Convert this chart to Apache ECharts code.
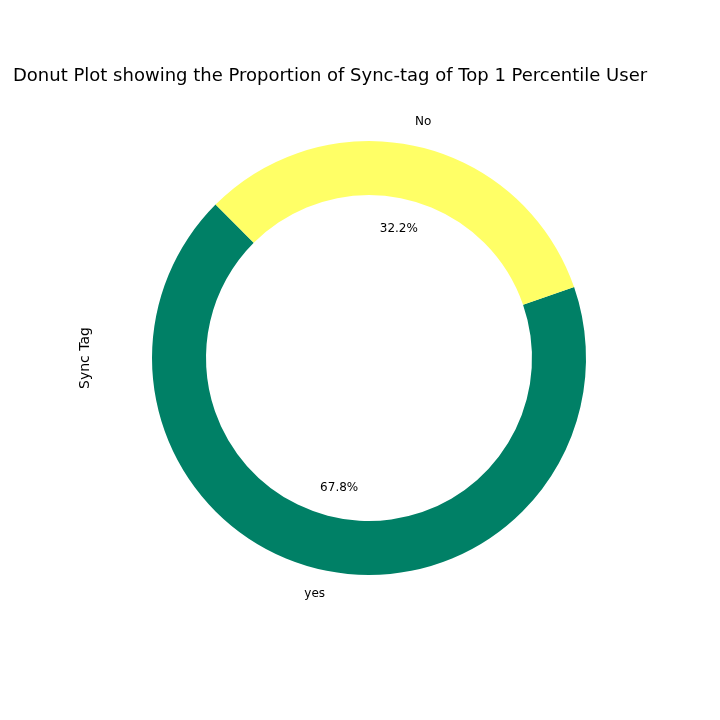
<!DOCTYPE html>
<html lang="en">
<head>
    <meta charset="UTF-8">
    <title>Donut</title>
    <script src="https://cdn.jsdelivr.net/npm/echarts@6/dist/echarts.min.js"></script>
    <style>body{margin:0;background:#fff}</style>
</head>
<body>
    <div id="main" style="width: 720px; height: 720px;"></div>
    <script type="text/javascript">
        var categories = ['yes', 'No'];
        var values = [67.8, 32.2];
        var colors = ['#008066', '#ffff66'];

        var data = categories.map(function (c, i) {
            return { name: c, value: values[i], itemStyle: { color: colors[i] } };
        });
        var ghost = categories.map(function (c, i) {
            return { name: c, value: values[i] };
        });

        var myChart = echarts.init(document.getElementById('main'));
        var common = {
            type: 'pie',
            center: [369, 358],
            startAngle: 135,
            clockwise: false,
            silent: true,
            labelLine: { show: false }
        };
        var option = {
            animation: false,
            title: {
                text: 'Donut Plot showing the Proportion of Sync-tag of Top 1 Percentile User',
                left: 8, top: 62,
                textStyle: { fontFamily: 'DejaVu Sans', fontSize: 18, fontWeight: 'normal', color: '#000' }
            },
            graphic: [{
                type: 'text', x: 85, y: 358, rotation: Math.PI / 2,
                style: { text: 'Sync Tag', font: '14px DejaVu Sans', fill: '#000', align: 'center', verticalAlign: 'middle' }
            }],
            series: [
                Object.assign({}, common, {
                    radius: [163, 217],
                    data: data,
                    label: { show: false }
                }),
                Object.assign({}, common, {
                    radius: [0, 260],
                    itemStyle: { color: 'rgba(0,0,0,0)' },
                    data: ghost,
                    label: {
                        show: true, position: 'inside',
                        formatter: function (p) { return p.value.toFixed(1) + '%'; },
                        fontFamily: 'DejaVu Sans', fontSize: 12, color: '#000'
                    }
                }),
                Object.assign({}, common, {
                    radius: [0, 478],
                    itemStyle: { color: 'rgba(0,0,0,0)' },
                    data: ghost,
                    label: {
                        show: true, position: 'inside',
                        formatter: '{b}',
                        fontFamily: 'DejaVu Sans', fontSize: 12, color: '#000'
                    }
                })
            ]
        };
        myChart.setOption(option);
    </script>
</body>
</html>
